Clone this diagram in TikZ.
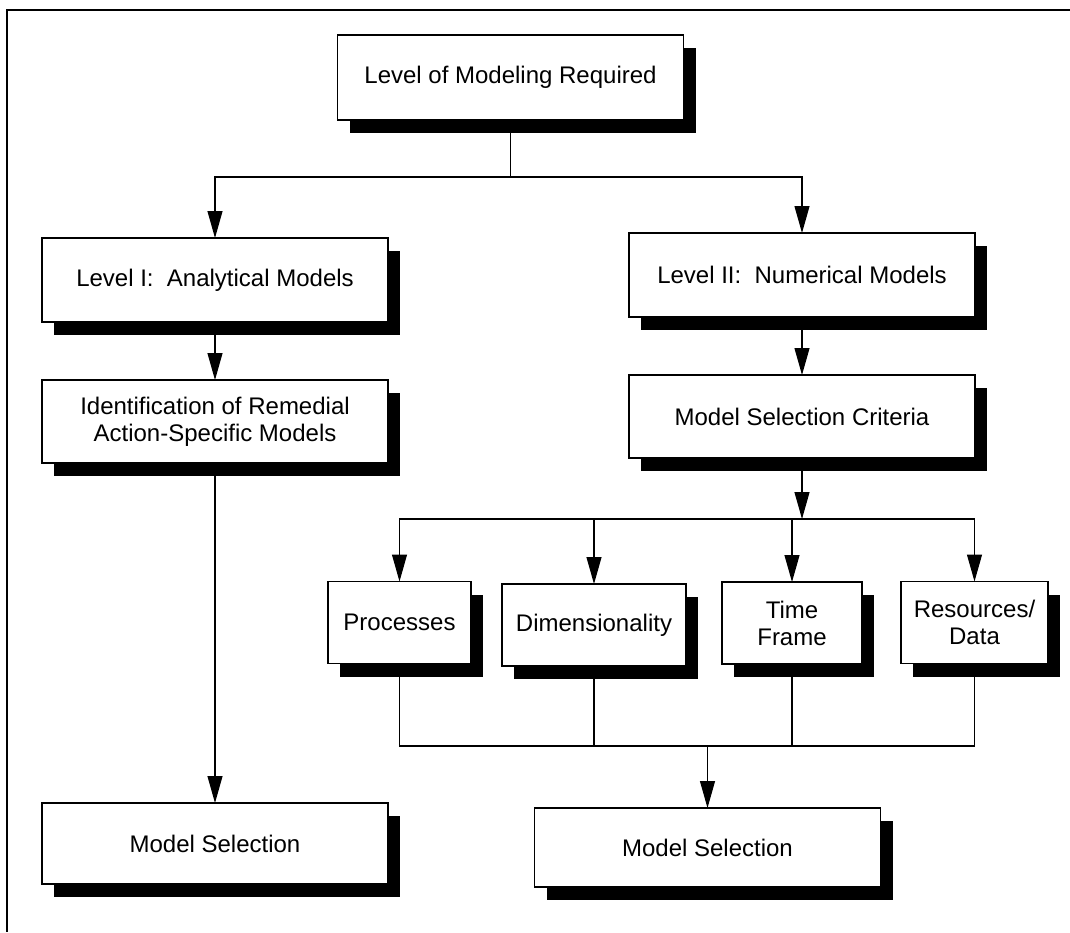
\documentclass[tikz,border=0pt]{standalone}
\usepackage{fontspec}
\setmainfont{Liberation Sans}
\usetikzlibrary{arrows.meta, positioning, shadows}

\begin{document}
\begin{tikzpicture}[
    x=1pt, y=1pt,
    box/.style={rectangle, draw, line width=1.3pt, fill=white, align=center, outer sep=0pt,
        inner sep=2pt, font=\fontsize{24}{27}\selectfont,
        drop shadow={shadow xshift=12pt, shadow yshift=-13pt, fill=black, opacity=1}},
    wide/.style={box, minimum width=346pt, minimum height=84pt},
    small/.style={box, minimum height=82pt},
    link/.style={line width=1.1pt},
    arrow/.style={-{Triangle[length=27pt, width=15pt]}, line width=1.1pt},
    node distance=58pt
    ]

    \useasboundingbox (0,0) rectangle (1070,-932);

    % Page frame
    \draw[line width=2.8pt] (1070,-10) -- (7,-10) -- (7,-932);

    % Define the boxes
    \node[wide, minimum height=85pt] (top) at (510.5,-77.5) {Level of Modeling Required};
    \node[wide] (lvl1) at (215,-280) {Level I:\ \ Analytical Models};
    \node[wide, minimum height=83pt, below=of lvl1] (ident) {Identification of Remedial\\Action-Specific Models};
    \node[wide, minimum height=81pt, below=340pt of ident] (msl) {Model Selection};
    \node[wide] (lvl2) at (802,-275) {Level II:\ \ Numerical Models};
    \node[wide, minimum height=83pt, below=of lvl2] (crit) {Model Selection Criteria};
    \node[small, minimum width=143pt] (proc) at (399.5,-622.5) {Processes};
    \node[small, minimum width=184pt] (dim) at (594,-625) {Dimensionality};
    \node[small, minimum width=140pt] (time) at (792,-623) {Time\\Frame};
    \node[small, minimum width=147pt] (res) at (974.5,-622.5) {Resources/\\Data};
    \node[wide, minimum height=79pt] (msr) at (707.5,-847.5) {Model Selection};

    % Branch points
    \coordinate[below=57pt of top.south] (split);
    \coordinate[below=61pt of crit.south] (fork);
    \coordinate[above=62pt of msr.north] (merge);

    % Connect the boxes
    \draw[link] (top) -- (split);
    \draw[arrow] (split) -| (lvl1);
    \draw[arrow] (split) -| (lvl2);
    \draw[arrow] (lvl1) -- (ident);
    \draw[arrow] (ident) -- (msl);
    \draw[arrow] (lvl2) -- (crit);
    \draw[arrow] (crit) -- (fork);
    \foreach \b in {proc, dim, time, res}
        \draw[arrow] (fork) -| (\b);
    \foreach \b in {proc, dim, time, res}
        \draw[link] (\b) |- (merge);
    \draw[arrow] (merge) -- (msr);

\end{tikzpicture}
\end{document}
